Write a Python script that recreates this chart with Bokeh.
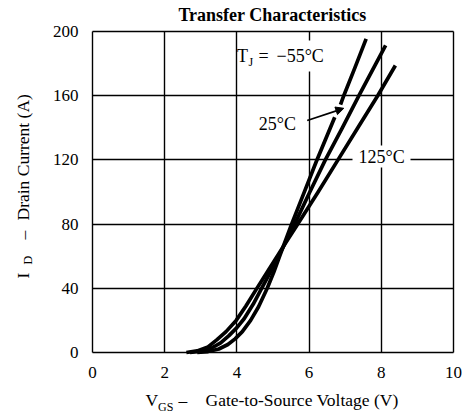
import math
from bokeh.plotting import figure
from bokeh.models import Range1d, FixedTicker, Label, Arrow, NormalHead, BoxAnnotation
from bokeh.embed import file_html
from bokeh.resources import INLINE

# ---------------- data ----------------
x_ticks = [0, 2, 4, 6, 8, 10]
y_ticks = [0, 40, 80, 120, 160, 200]

vgs_125 = [2.6, 2.9, 3.2, 3.45, 3.7, 3.98, 4.25, 4.54, 4.85, 5.2, 5.7, 6.25, 6.8, 7.35, 7.9, 8.39]
id_125 = [0, 1, 3.5, 8, 13, 20, 29, 39.5, 50.5, 63, 80.5, 100, 120, 140, 160, 178.8]

vgs_25 = [2.7, 3.0, 3.3, 3.55, 3.78, 4.0, 4.2, 4.45, 4.7, 4.95, 5.2, 5.6, 6.02, 6.45, 6.92, 7.38, 8.12]
id_25 = [0, 0.8, 2.8, 6, 10.5, 15.5, 21, 30, 40.5, 51, 62, 80, 100, 120, 140, 160, 191.3]

vgs_m55 = [2.9, 3.2, 3.5, 3.75, 3.95, 4.15, 4.38, 4.6, 4.84, 5.02, 5.2, 5.5, 5.85, 6.2, 6.71,
           6.87, 6.96, 7.27, 7.58]
id_m55 = [0, 0.6, 2.2, 5, 8.5, 13, 20, 28.5, 40, 50, 61, 79, 99, 119, 146.6,
          154.5, 160, 177.5, 195.4]
m55_break = 15  # the -55 °C trace is interrupted where the 25 °C arrow meets it

X_MIN, X_MAX = 0, 10
Y_MIN, Y_MAX = 0, 200

# ---------------- layout helpers (page px -> data) ----------------
W, H = 463, 415
FX0, FX1 = 92.0, 453.0   # px of x = 0 and x = 10
FY0, FY1 = 352.0, 31.0   # px of y = 0 and y = 200


def dx(px):
    return X_MIN + (px - FX0) / (FX1 - FX0) * (X_MAX - X_MIN)


def dy(py):
    return Y_MIN + (FY0 - py) / (FY0 - FY1) * (Y_MAX - Y_MIN)


FONT = "Liberation Serif"

p = figure(width=W, height=H, output_backend="svg", toolbar_location=None,
           x_range=Range1d(dx(0), dx(W)), y_range=Range1d(dy(H), dy(0)),
           min_border=0)
p.background_fill_color = "white"
p.border_fill_color = "white"
p.outline_line_color = None

# axes drawn at the data origin (they take no panel space)
p.xaxis.fixed_location = Y_MIN
p.yaxis.fixed_location = X_MIN
p.xaxis.bounds = (X_MIN, X_MAX)
p.yaxis.bounds = (Y_MIN, Y_MAX)
p.xaxis.ticker = FixedTicker(ticks=x_ticks)
p.yaxis.ticker = FixedTicker(ticks=y_ticks)
for ax in (p.xaxis, p.yaxis):
    ax.axis_line_color = None
    ax.major_tick_line_color = None
    ax.minor_tick_line_color = None
    ax.major_tick_out = 0
    ax.major_tick_in = 0
    ax.major_label_text_font = FONT
    ax.major_label_text_font_size = "17px"
    ax.major_label_text_color = "black"
p.xaxis.major_label_standoff = 14
p.yaxis.major_label_standoff = 14

# grid (also forms the box around the data area)
p.xgrid.ticker = FixedTicker(ticks=x_ticks)
p.ygrid.ticker = FixedTicker(ticks=y_ticks)
p.xgrid.bounds = (X_MIN, X_MAX)
p.ygrid.bounds = (Y_MIN, Y_MAX)
p.xgrid.cross_bounds = (Y_MIN, Y_MAX)
p.ygrid.cross_bounds = (X_MIN, X_MAX)
for g in (p.xgrid, p.ygrid):
    g.grid_line_color = "black"
    g.grid_line_width = 1.4
    g.grid_line_alpha = 1.0

# curves
kw = dict(line_color="black", line_width=3.7, line_join="round", line_cap="butt")
p.line(vgs_125, id_125, **kw)
p.line(vgs_25, id_25, **kw)
p.line(vgs_m55[:m55_break], id_m55[:m55_break], **kw)
p.line(vgs_m55[m55_break:], id_m55[m55_break:], **kw)

# white backgrounds behind in-plot labels
p.add_layout(BoxAnnotation(left=dx(239.5), right=dx(330), top=dy(40), bottom=dy(71),
                           fill_color="white", fill_alpha=1.0, line_color=None))
p.add_layout(BoxAnnotation(left=dx(352), right=dx(410), top=dy(145), bottom=dy(167),
                           fill_color="white", fill_alpha=1.0, line_color=None))

SHIFT = 0.34  # renderer places the alphabetic baseline ~0.34 em lower than requested


def lab(text, px, py, size, align="left", angle=0.0, bold=False):
    if angle:
        px = px - SHIFT * size - 5
    else:
        py = py - SHIFT * size
    p.add_layout(Label(x=dx(px), y=dy(py), text=text, text_font=FONT,
                       text_font_size=f"{size}px", text_align=align,
                       text_baseline="alphabetic", angle=angle,
                       text_font_style="bold" if bold else "normal",
                       text_color="black"))


# title
lab("Transfer Characteristics", 272, 20.5, 18, align="center", bold=True)

# x axis label
lab("V", 145, 405, 17.5)
lab("GS", 157.5, 411, 12)
lab("\u2013", 178, 405, 17.5)
lab("Gate-to-Source Voltage (V)", 205, 405, 17.5)

# y axis label (rotated)
r = math.pi / 2
lab("I", 33, 278, 17.5, angle=r)
lab("D", 37, 264, 12, angle=r)
lab("\u2013", 33, 239, 17.5, angle=r)
lab("Drain Current (A)", 33, 220, 17.5, angle=r)

# curve annotations
lab("T", 236.5, 62, 18)
lab("J", 248, 66, 12)
lab("=", 258, 62, 18)
lab("\u221255\u00b0C", 276, 62, 18)
lab("25\u00b0C", 258.3, 129.3, 18)
lab("125\u00b0C", 358, 162.3, 18)

p.add_layout(Arrow(x_start=dx(306.7), y_start=dy(120), x_end=dx(343.3), y_end=dy(107.8),
                   line_color="black", line_width=1.8,
                   end=NormalHead(size=8, fill_color="black", line_color="black", line_width=1)))

open("out.html", "w").write(file_html(p, INLINE))
